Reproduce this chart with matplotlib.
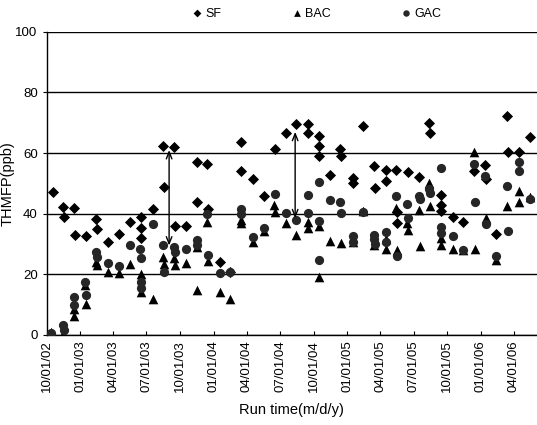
import matplotlib
matplotlib.use("Agg")
import matplotlib.pyplot as plt
import matplotlib.dates as mdates
import numpy as np
from datetime import datetime

plt.rcParams['font.family'] = ['Liberation Sans', 'DejaVu Sans']

# THMFP readings per process line (ppb)
sf_dates = ["2002-10-19", "2002-11-15", "2002-11-17", "2002-12-16", "2002-12-18", "2003-01-16",
            "2003-02-14", "2003-02-16", "2003-03-17", "2003-04-17", "2003-05-17", "2003-06-15",
            "2003-06-16", "2003-06-17", "2003-07-19", "2003-08-15", "2003-08-17", "2003-09-15",
            "2003-09-17", "2003-10-17", "2003-11-15", "2003-11-17", "2003-12-15", "2003-12-17",
            "2004-01-17", "2004-02-15", "2004-03-15", "2004-03-17", "2004-04-17", "2004-05-17",
            "2004-06-16", "2004-07-17", "2004-08-14", "2004-09-14", "2004-09-16", "2004-10-14",
            "2004-10-15", "2004-10-16", "2004-11-15", "2004-12-13", "2004-12-15", "2005-01-15",
            "2005-01-17", "2005-02-14", "2005-03-15", "2005-03-17", "2005-04-16", "2005-04-18",
            "2005-05-15", "2005-05-16", "2005-05-17", "2005-06-15", "2005-07-17", "2005-08-12",
            "2005-08-14", "2005-09-13", "2005-09-14", "2005-09-15", "2005-10-16", "2005-11-14",
            "2005-12-14", "2006-01-14", "2006-01-16", "2006-02-13", "2006-03-15", "2006-03-16",
            "2006-04-16", "2006-05-16"]
sf_vals = [47.0, 42.3, 39.0, 41.8, 33.0, 32.7,
           38.2, 34.9, 30.5, 33.3, 37.4, 38.9,
           35.2, 31.9, 41.6, 62.4, 48.7, 61.9,
           35.8, 35.8, 57.0, 44.0, 56.5, 41.5,
           24.2, 20.8, 63.5, 54.2, 51.3, 46.0,
           61.3, 66.5, 69.5, 69.5, 66.5, 65.5,
           62.2, 59.1, 52.8, 61.3, 59.1, 51.7,
           50.1, 69.0, 55.6, 48.4, 54.5, 50.9,
           54.5, 40.7, 36.9, 53.6, 52.0, 69.9,
           66.5, 46.2, 42.9, 41.0, 38.8, 37.4,
           54.0, 56.1, 51.5, 33.3, 72.3, 60.2,
           60.5, 65.2]

bac_dates = ["2002-10-13", "2002-11-14", "2002-11-16", "2002-12-14", "2002-12-16", "2003-01-15",
             "2003-01-17", "2003-02-14", "2003-02-16", "2003-03-17", "2003-04-17", "2003-05-17",
             "2003-06-15", "2003-06-17", "2003-07-19", "2003-08-15", "2003-08-17", "2003-09-15",
             "2003-09-17", "2003-10-17", "2003-11-15", "2003-11-17", "2003-12-15", "2003-12-17",
             "2004-01-17", "2004-02-15", "2004-03-15", "2004-03-17", "2004-04-17", "2004-05-17",
             "2004-06-15", "2004-06-17", "2004-07-17", "2004-08-14", "2004-09-14", "2004-09-16",
             "2004-10-15", "2004-10-16", "2004-11-15", "2004-12-14", "2005-01-16", "2005-02-14",
             "2005-03-16", "2005-04-16", "2005-04-18", "2005-05-15", "2005-05-17", "2005-06-14",
             "2005-06-16", "2005-07-16", "2005-07-18", "2005-08-12", "2005-08-14", "2005-09-13",
             "2005-09-15", "2005-10-16", "2005-11-14", "2005-12-13", "2005-12-15", "2006-01-15",
             "2006-02-13", "2006-03-15", "2006-04-15", "2006-04-17", "2006-05-16"]
bac_vals = [0.9, 0.2, 0.0, 8.7, 6.4, 16.5,
            10.3, 24.2, 23.1, 20.9, 20.3, 23.4,
            20.0, 14.0, 12.0, 25.8, 23.5, 25.4,
            23.2, 23.6, 29.0, 14.7, 37.4, 24.5,
            14.1, 12.0, 38.0, 37.0, 30.6, 34.2,
            43.0, 40.5, 36.8, 33.0, 37.4, 35.4,
            36.0, 19.2, 31.0, 30.4, 30.5, 41.0,
            29.8, 31.5, 28.3, 42.0, 28.0, 37.0,
            34.6, 41.3, 29.2, 50.2, 42.4, 32.0,
            29.7, 28.3, 28.1, 60.5, 28.3, 38.5,
            24.6, 42.7, 47.4, 44.0, 45.6]

gac_dates = ["2002-10-13", "2002-11-14", "2002-11-16", "2002-12-14", "2002-12-16", "2003-01-15",
             "2003-01-17", "2003-02-14", "2003-02-16", "2003-03-17", "2003-04-17", "2003-05-17",
             "2003-06-14", "2003-06-15", "2003-06-16", "2003-06-17", "2003-07-19", "2003-08-15",
             "2003-08-17", "2003-09-15", "2003-09-17", "2003-10-17", "2003-11-15", "2003-11-17",
             "2003-12-15", "2003-12-17", "2004-01-17", "2004-02-15", "2004-03-15", "2004-03-17",
             "2004-04-17", "2004-05-17", "2004-06-16", "2004-07-17", "2004-08-14", "2004-09-14",
             "2004-09-16", "2004-10-14", "2004-10-15", "2004-10-16", "2004-11-15", "2004-12-13",
             "2004-12-15", "2005-01-15", "2005-01-17", "2005-02-14", "2005-03-15", "2005-03-16",
             "2005-03-17", "2005-04-16", "2005-04-18", "2005-05-15", "2005-05-17", "2005-06-14",
             "2005-06-16", "2005-07-16", "2005-07-18", "2005-08-12", "2005-08-14", "2005-09-13",
             "2005-09-14", "2005-09-15", "2005-10-16", "2005-11-14", "2005-12-13", "2005-12-15",
             "2006-01-14", "2006-01-16", "2006-02-13", "2006-03-15", "2006-03-16", "2006-04-15",
             "2006-04-17", "2006-05-16"]
gac_vals = [0.5, 3.3, 1.5, 12.5, 10.0, 17.6,
            13.2, 27.5, 25.8, 23.6, 22.9, 29.7,
            28.5, 25.5, 17.3, 15.5, 36.7, 29.7,
            20.8, 29.0, 27.3, 28.5, 31.4, 29.8,
            40.0, 26.5, 20.3, 20.6, 41.6, 40.0,
            32.4, 35.2, 46.6, 40.2, 38.0, 46.2,
            40.2, 50.6, 37.5, 24.8, 44.6, 43.9,
            40.2, 32.5, 30.8, 40.5, 33.0, 31.5,
            30.0, 33.8, 30.5, 45.9, 25.9, 43.3,
            38.5, 46.0, 44.8, 48.0, 46.8, 55.0,
            35.7, 33.5, 32.5, 28.1, 56.5, 44.0,
            52.3, 36.5, 26.0, 49.3, 34.4, 57.2,
            54.1, 45.0]

# arrows marking the SF -> GAC gap
arrow_dates = ["2003-09-01", "2004-08-11"]
arrow_low = [29.5, 38.5]
arrow_high = [61.0, 67.0]


def to_dates(strings):
    return [datetime.strptime(s, "%Y-%m-%d") for s in strings]


def main():
    fig = plt.figure(figsize=(5.37, 4.25), dpi=100)
    ax = fig.add_axes([0.087, 0.212, 0.913, 0.713])

    ax.scatter(to_dates(sf_dates), sf_vals, marker='D', s=32, color='black',
               linewidths=0, label='SF', zorder=3)
    ax.scatter(to_dates(bac_dates), bac_vals, marker='^', s=48, color='black',
               linewidths=0, label='BAC', zorder=4)
    ax.scatter(to_dates(gac_dates), gac_vals, marker='o', s=44, color='#262626',
               linewidths=0, label='GAC', zorder=5)

    for d, lo, hi in zip(to_dates(arrow_dates), arrow_low, arrow_high):
        ax.annotate('', xy=(d, hi), xytext=(d, lo),
                    arrowprops=dict(arrowstyle='<->,head_length=0.5,head_width=0.2',
                                    color='black', lw=1.0, shrinkA=0, shrinkB=0),
                    zorder=6)

    ax.set_ylim(0, 100)
    ax.set_yticks(np.arange(0, 101, 20))
    ax.set_xlim(datetime(2002, 10, 1), datetime(2006, 6, 4))
    ax.xaxis.set_major_locator(mdates.MonthLocator(bymonth=[1, 4, 7, 10], bymonthday=1))
    ax.xaxis.set_major_formatter(mdates.DateFormatter('%m/%d/%y'))
    ax.tick_params(axis='x', rotation=90, labelsize=9.5, direction='in', length=3, pad=4)
    ax.tick_params(axis='y', labelsize=9.5, direction='out', length=3)

    ax.yaxis.grid(True, color='black', lw=1.0)
    ax.set_axisbelow(True)
    for side in ['top', 'right']:
        ax.spines[side].set_visible(False)
    ax.spines['left'].set_linewidth(1.0)
    ax.spines['bottom'].set_linewidth(1.0)

    ax.set_xlabel('Run time(m/d/y)', fontsize=10.5, labelpad=8)
    ax.set_ylabel('THMFP(ppb)', fontsize=10.5)
    # keep the rotated label inside the canvas (centre about 12 px from the left)
    ax.yaxis.set_label_coords(-0.065, 0.5)

    fig.legend(loc='center', bbox_to_anchor=(0.59, 0.968), ncol=3, frameon=False,
               fontsize=9, markerscale=0.7, handlelength=0.8, handletextpad=0.3,
               columnspacing=5.6)

    fig.savefig('out.png', dpi=100)
    plt.close(fig)


if __name__ == "__main__":
    main()
